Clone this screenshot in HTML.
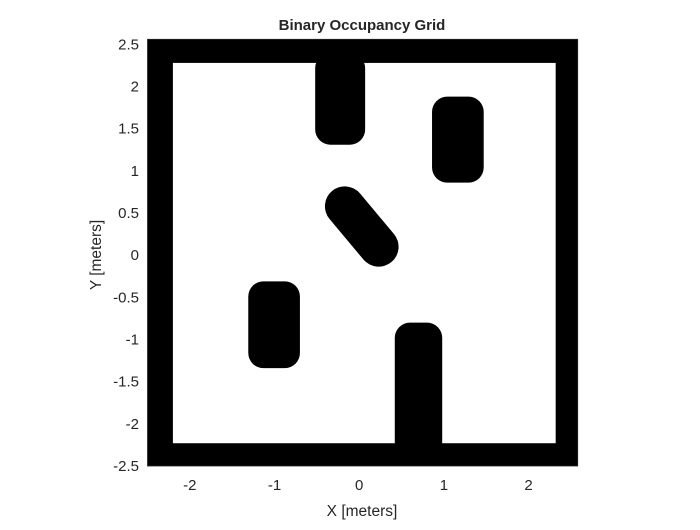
<!DOCTYPE html>
<html><head><meta charset="utf-8"><style>
body{margin:0;background:#fff;width:700px;height:525px;overflow:hidden}
text{font-family:"Liberation Sans",Arial,sans-serif;fill:#262626}
</style></head><body>
<svg id="chart" width="700" height="525" viewBox="0 0 700 525">
<rect x="0" y="0" width="700" height="525" fill="#fff"/>
<g id="marks"></g>
<g id="axes"></g>
<text x="362" y="30" text-anchor="middle" font-size="15" font-weight="bold" fill="#000">Binary Occupancy Grid</text>
<text x="362" y="516" text-anchor="middle" font-size="15.5">X [meters]</text>
<text transform="translate(101,255) rotate(-90)" text-anchor="middle" font-size="15.5">Y [meters]</text>
</svg>
<script>
const xTicks=[-2,-1,0,1,2];
const yTicks=[-2.5,-2,-1.5,-1,-0.5,0,0.5,1,1.5,2,2.5];
const xTickLabels=["-2","-1","0","1","2"];
const yTickLabels=["-2.5","-2","-1.5","-1","-0.5","0","0.5","1","1.5","2","2.5"];
// walls: [x0,y0,x1,y1] in meters
const walls=[[-2.5,-2.5,2.58,-2.23],[-2.5,2.28,2.58,2.56],[-2.5,-2.5,-2.2,2.56],[2.32,-2.5,2.58,2.56]];
// rounded obstacles: [x0,y0,x1,y1,cornerRadius]
const obstacles=[[-0.52,1.31,0.07,2.4,0.18],[0.86,0.86,1.47,1.88,0.18],[-1.31,-1.34,-0.70,-0.31,0.18],[0.42,-2.4,0.98,-0.80,0.18]];
// capsule: [xA,yA,xB,yB,radius]
const capsules=[[-0.17,0.58,0.23,0.10,0.235]];
const X0=147.5,X1=577.7,Y0=466,Y1=39.3,xmin=-2.5,xmax=2.58,ymin=-2.5,ymax=2.56;
const sx=v=>X0+(v-xmin)/(xmax-xmin)*(X1-X0);
const sy=v=>Y0-(v-ymin)/(ymax-ymin)*(Y0-Y1);
const NS="http://www.w3.org/2000/svg";
const g=document.getElementById('marks'),ax=document.getElementById('axes');
function mk(tag,attrs,parent){const e=document.createElementNS(NS,tag);for(const k in attrs)e.setAttribute(k,attrs[k]);parent.appendChild(e);return e;}
walls.forEach(w=>{const e=mk('rect',{x:sx(w[0]),y:sy(w[3]),width:sx(w[2])-sx(w[0]),height:sy(w[1])-sy(w[3]),fill:'#000'},g);

});
obstacles.forEach(o=>{const r=o[4]*(X1-X0)/(xmax-xmin);const e=mk('rect',{x:sx(o[0]),y:sy(o[3]),width:sx(o[2])-sx(o[0]),height:sy(o[1])-sy(o[3]),rx:r,ry:r,fill:'#000'},g);

});
capsules.forEach(c=>{const r=c[4]*(X1-X0)/(xmax-xmin);const e=mk('line',{x1:sx(c[0]),y1:sy(c[1]),x2:sx(c[2]),y2:sy(c[3]),stroke:'#000','stroke-width':2*r,'stroke-linecap':'round'},g);

});
const fr=mk('rect',{x:X0,y:Y1,width:X1-X0,height:Y0-Y1,fill:'none',stroke:'#262626','stroke-width':0.8},ax);


xTicks.forEach((v,i)=>{const t=mk('text',{x:sx(v),y:490,'text-anchor':'middle','font-size':15},ax);t.textContent=xTickLabels[i];

});
yTicks.forEach((v,i)=>{const t=mk('text',{x:139,y:sy(v)+5,'text-anchor':'end','font-size':15},ax);t.textContent=yTickLabels[i];

});
</script>
</body></html>
